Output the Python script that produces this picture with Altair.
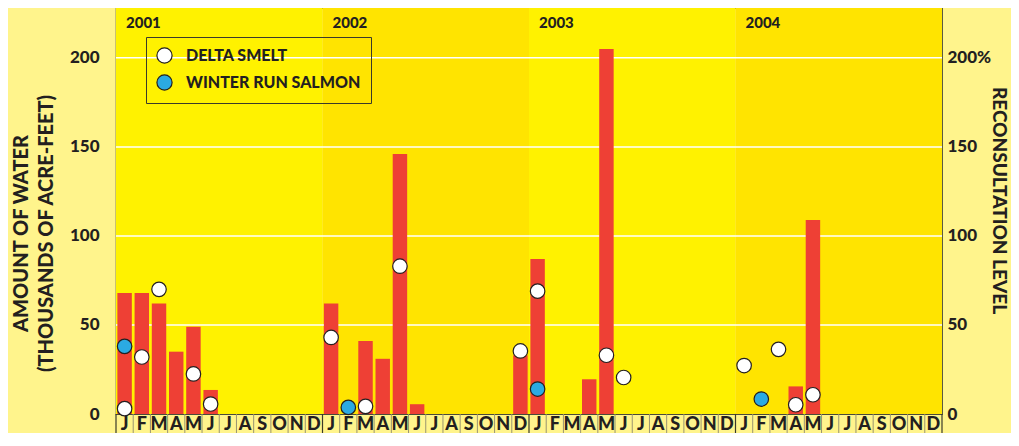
import altair as alt
import pandas as pd

# ---------------- data ----------------
MONTH_LETTERS = ["J", "F", "M", "A", "M", "J", "J", "A", "S", "O", "N", "D"]
YEARS = [2001, 2002, 2003, 2004]
YEAR_SHADE = ["light", "dark", "light", "dark"]

# amount of water (thousands of acre-feet), month index 0 = Jan 2001
WATER_MONTH = [0, 1, 2, 3, 4, 5, 12, 14, 15, 16, 17, 23, 24, 27, 28, 39, 40]
WATER_VALUE = [68, 68, 62, 35, 49, 13.5, 62, 41, 31, 146, 5.5, 33, 87, 19.5, 205, 15.5, 109]

# reconsultation level (%)
SMELT_MONTH = [0, 1, 2, 4, 5, 12, 14, 16, 23, 24, 28, 29, 36, 38, 39, 40]
SMELT_LEVEL = [3, 32, 70, 22.5, 5.6, 43, 4.3, 83, 35.4, 69, 33, 20.5, 27.2, 36.3, 5.2, 10.8]
SALMON_MONTH = [0, 13, 24, 37]
SALMON_LEVEL = [38, 3.7, 14, 8.4]

SPECIES = ["DELTA SMELT", "WINTER RUN SALMON"]
TICKS = [0, 50, 100, 150, 200]
GRID_VALUES = [50, 100, 150, 200]

# ---------------- tables ----------------
n_months = len(YEARS) * 12
year_df = pd.DataFrame({
    "year": [str(y) for y in YEARS],
    "start": [i * 12 for i in range(len(YEARS))],
    "end": [i * 12 + 12 for i in range(len(YEARS))],
    "shade": YEAR_SHADE,
})
month_df = pd.DataFrame({"m": list(range(n_months)),
                         "label": MONTH_LETTERS * len(YEARS)})
water_df = pd.DataFrame({"m": WATER_MONTH, "value": WATER_VALUE})
points_df = pd.concat([
    pd.DataFrame({"m": SMELT_MONTH, "level": SMELT_LEVEL, "species": SPECIES[0]}),
    pd.DataFrame({"m": SALMON_MONTH, "level": SALMON_LEVEL, "species": SPECIES[1]}),
])
grid_df = pd.DataFrame({"v": GRID_VALUES})
sep_df = pd.DataFrame({"b": [b for b in range(1, n_months) if b % 12 != 0]})
ysep_df = pd.DataFrame({"b": list(range(0, n_months + 1, 12))})

# ---------------- layout ----------------
W, H = 826, 406
YMAX = 228
FONT = "Lato"
WEIGHT = 900
INK = "#231F20"

x_scale = alt.Scale(domain=[0, n_months], nice=False, zero=False)
y_scale = alt.Scale(domain=[0, YMAX], nice=False)

bg = alt.Chart(year_df).mark_rect().encode(
    x=alt.X("start:Q", scale=x_scale, axis=None),
    x2="end:Q",
    y=alt.value(0),
    y2=alt.value(H),
    fill=alt.Fill("shade:N", scale=alt.Scale(domain=["light", "dark"],
                                             range=["#FFF200", "#FFE400"]), legend=None),
)

grid = alt.Chart(grid_df).mark_rule(color="white", strokeWidth=1.5).encode(
    y=alt.Y("v:Q", scale=y_scale, axis=None)
)

left_axis = alt.Axis(
    values=TICKS, grid=False, domain=False, ticks=False,
    labelFont=FONT, labelFontSize=17, labelFontWeight=WEIGHT, labelColor=INK,
    labelPadding=17,
    title=["AMOUNT OF WATER", "(THOUSANDS OF ACRE-FEET)"],
    titleFont=FONT, titleFontSize=20, titleFontWeight=WEIGHT, titleColor=INK,
    titleX=-95, titleY=225, titleAngle=-90, titleAlign="center",
    titleBaseline="middle", titleLineHeight=25,
)

bars = alt.Chart(water_df).transform_calculate(
    x0="datum.m + 0.08", x1="datum.m + 0.92"
).mark_rect(color="#EE4035").encode(
    x=alt.X("x0:Q", scale=x_scale, axis=None),
    x2="x1:Q",
    y=alt.Y("value:Q", scale=y_scale, axis=left_axis),
    y2=alt.datum(0),
)

right_axis = alt.Axis(
    orient="right", values=TICKS, grid=False, domain=False, ticks=False,
    labelExpr="datum.value == 200 ? '200%' : datum.label",
    labelFont=FONT, labelFontSize=17, labelFontWeight=WEIGHT, labelColor=INK,
    labelPadding=5,
    title="RECONSULTATION LEVEL",
    titleFont=FONT, titleFontSize=19, titleFontWeight=WEIGHT, titleColor=INK,
    titleX=56, titleY=192, titleAngle=90, titleAlign="center", titleBaseline="middle",
)

points = alt.Chart(points_df).transform_calculate(
    xc="datum.m + 0.5"
).mark_circle(size=210, opacity=1, stroke=INK, strokeWidth=1.2).encode(
    x=alt.X("xc:Q", scale=x_scale, axis=None),
    y=alt.Y("level:Q", scale=y_scale, axis=right_axis),
    color=alt.Color(
        "species:N",
        scale=alt.Scale(domain=SPECIES, range=["#FFFFFF", "#2BAAE2"]),
        legend=alt.Legend(
            orient="none", legendX=30, legendY=29, title=None,
            labelFont=FONT, labelFontSize=16, labelFontWeight=WEIGHT, labelColor=INK,
            labelLimit=400,
            symbolType="circle", symbolSize=230, symbolStrokeColor=INK,
            symbolStrokeWidth=1.2, symbolOpacity=1,
            labelOffset=13, rowPadding=6, padding=10,
            strokeColor="#3A3A2A",
        ),
    ),
)

year_labels = alt.Chart(year_df).mark_text(
    align="left", baseline="middle", dx=10, font=FONT, fontSize=15,
    fontWeight=WEIGHT, color=INK,
).encode(
    x=alt.X("start:Q", scale=x_scale, axis=None),
    y=alt.value(15),
    text="year:N",
)

seps = alt.Chart(sep_df).mark_rule(color="#9A9470", strokeWidth=1).encode(
    x=alt.X("b:Q", scale=x_scale, axis=None),
    y=alt.value(H),
    y2=alt.value(H + 19),
)

ysep = alt.Chart(ysep_df).mark_rule(color="#3A3A2A", strokeWidth=1.2).encode(
    x=alt.X("b:Q", scale=x_scale, axis=None),
    y=alt.value(H),
    y2=alt.value(H + 19),
)

month_labels = alt.Chart(month_df).transform_calculate(
    xc="datum.m + 0.5"
).mark_text(
    align="center", baseline="middle", font=FONT, fontSize=18,
    fontWeight=WEIGHT, color=INK,
).encode(
    x=alt.X("xc:Q", scale=x_scale, axis=None),
    y=alt.value(H + 11),
    text="label:N",
)

chart = alt.layer(
    bg, grid, bars, points, year_labels, seps, ysep, month_labels
).resolve_scale(
    y="independent"
).properties(
    width=W, height=H,
    background="#FFF48C",
    padding={"left": 108, "top": 0, "right": 69, "bottom": 19},
    autosize=alt.AutoSizeParams(type="none"),
).configure_view(
    stroke="#4A4A3A", strokeWidth=1.2
)

chart.save("out.html", embed_options={"renderer": "svg", "actions": False})
